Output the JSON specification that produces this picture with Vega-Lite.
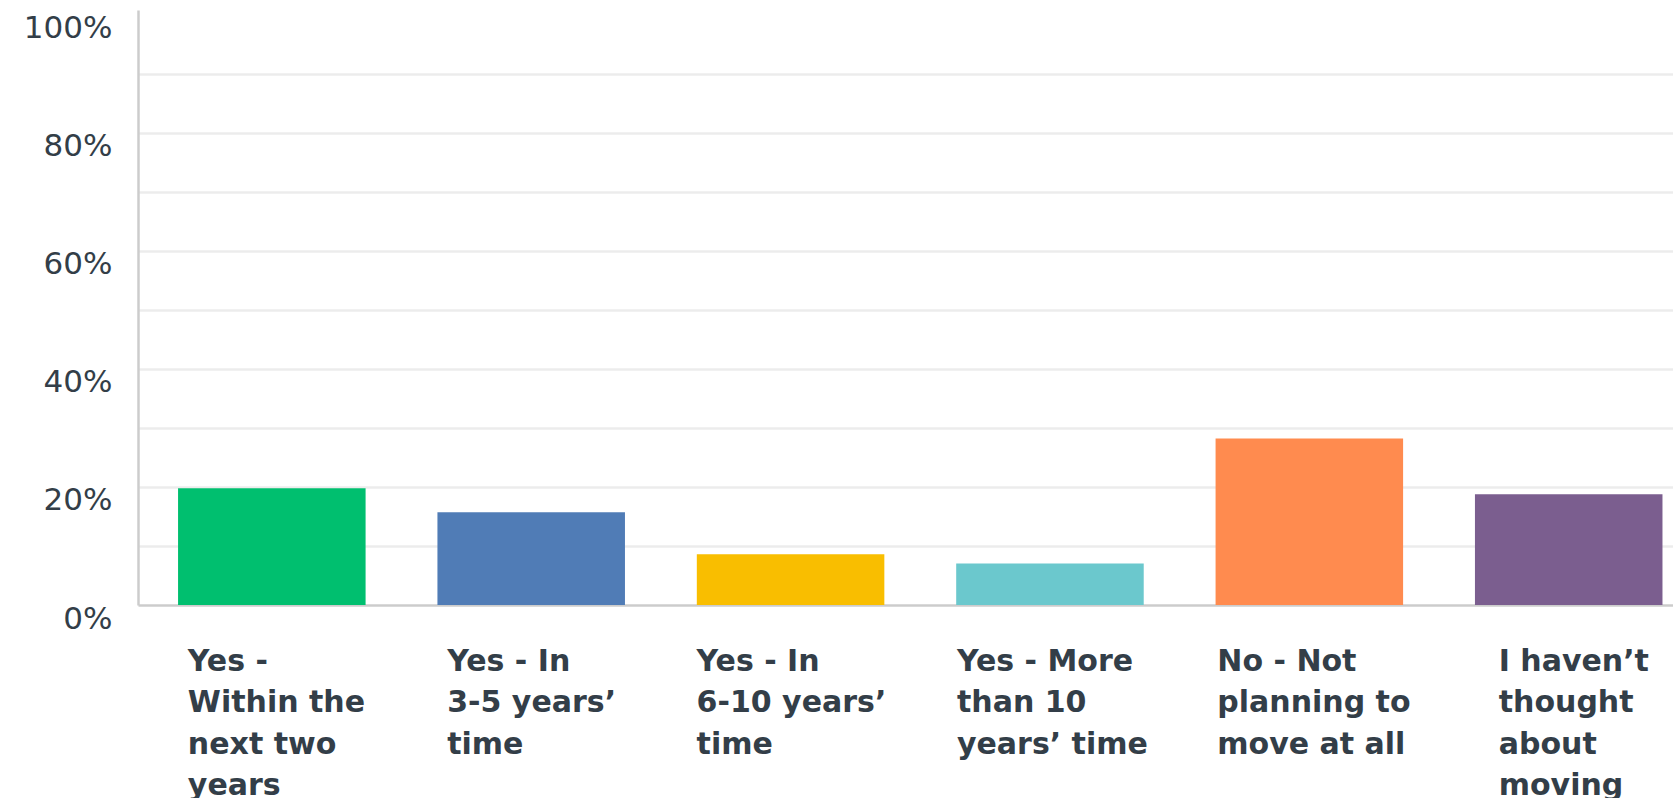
{
  "$schema": "https://vega.github.io/schema/vega-lite/v6.json",
  "autosize": "none",
  "width": 1535,
  "height": 595,
  "padding": {"left": 138, "top": 10, "right": 0, "bottom": 193},
  "background": "white",
  "config": {"view": {"stroke": null}},
  "data": {
    "values": [
      {"cat": "Yes -|Within the|next two|years", "pct": 19.8},
      {"cat": "Yes - In|3-5 years’|time", "pct": 15.7},
      {"cat": "Yes - In|6-10 years’|time", "pct": 8.6},
      {"cat": "Yes - More|than 10|years’ time", "pct": 7.05},
      {"cat": "No - Not|planning to|move at all", "pct": 28.2},
      {"cat": "I haven’t|thought|about|moving", "pct": 18.75}
    ]
  },
  "mark": {"type": "bar"},
  "encoding": {
    "x": {
      "field": "cat",
      "type": "nominal",
      "sort": null,
      "scale": {"paddingInner": 0.277, "paddingOuter": 0.0975, "align": 0.792, "round": false},
      "axis": {
        "title": null,
        "labelAngle": 0,
        "labelExpr": "split(datum.label, '|')",
        "labelAlign": "left",
        "labelBaseline": "top",
        "labelPadding": 41,
        "labelLineHeight": 41.5,
        "labelFont": "DejaVu Sans",
        "labelFontWeight": "bold",
        "labelFontSize": 30,
        "labelColor": "#333e48",
        "labelLimit": 0,
        "labelOverlap": false,
        "labelBound": false,
        "labelOffset": {"expr": "indexof(datum.value, 'Within') >= 0 ? -84 : indexof(datum.value, '3-5') >= 0 ? -84 : indexof(datum.value, '6-10') >= 0 ? -94 : indexof(datum.value, 'More') >= 0 ? -93 : indexof(datum.value, 'Not') >= 0 ? -92 : -70"},
        "ticks": false,
        "tickSize": 0,
        "domainColor": "#cccccc",
        "domainWidth": 2.5,
        "grid": false
      }
    },
    "y": {
      "field": "pct",
      "type": "quantitative",
      "scale": {"domain": [0, 100.8], "nice": false},
      "axis": {
        "title": null,
        "values": [0, 10, 20, 30, 40, 50, 60, 70, 80, 90, 100],
        "labelExpr": "datum.value % 20 == 0 ? datum.value + '%' : ''",
        "labelFont": "DejaVu Sans",
        "labelFontSize": 31,
        "labelColor": "#333e48",
        "labelPadding": 26,
        "labelOffset": 14,
        "labelFlush": false,
        "labelOverlap": false,
        "ticks": false,
        "tickSize": 0,
        "domainColor": "#cccccc",
        "domainWidth": 2.5,
        "grid": true,
        "gridColor": "#ececec",
        "gridWidth": 2.3,
        "gridOpacity": {"condition": {"test": "datum.value == 0 || datum.value == 100", "value": 0}, "value": 1}
      }
    },
    "color": {
      "field": "cat",
      "type": "nominal",
      "sort": null,
      "legend": null,
      "scale": {
        "domain": [
          "Yes -|Within the|next two|years",
          "Yes - In|3-5 years’|time",
          "Yes - In|6-10 years’|time",
          "Yes - More|than 10|years’ time",
          "No - Not|planning to|move at all",
          "I haven’t|thought|about|moving"
        ],
        "range": ["#00bf6f", "#507cb6", "#f9be00", "#6bc8cd", "#ff8b4f", "#7b5e8f"]
      }
    }
  }
}
